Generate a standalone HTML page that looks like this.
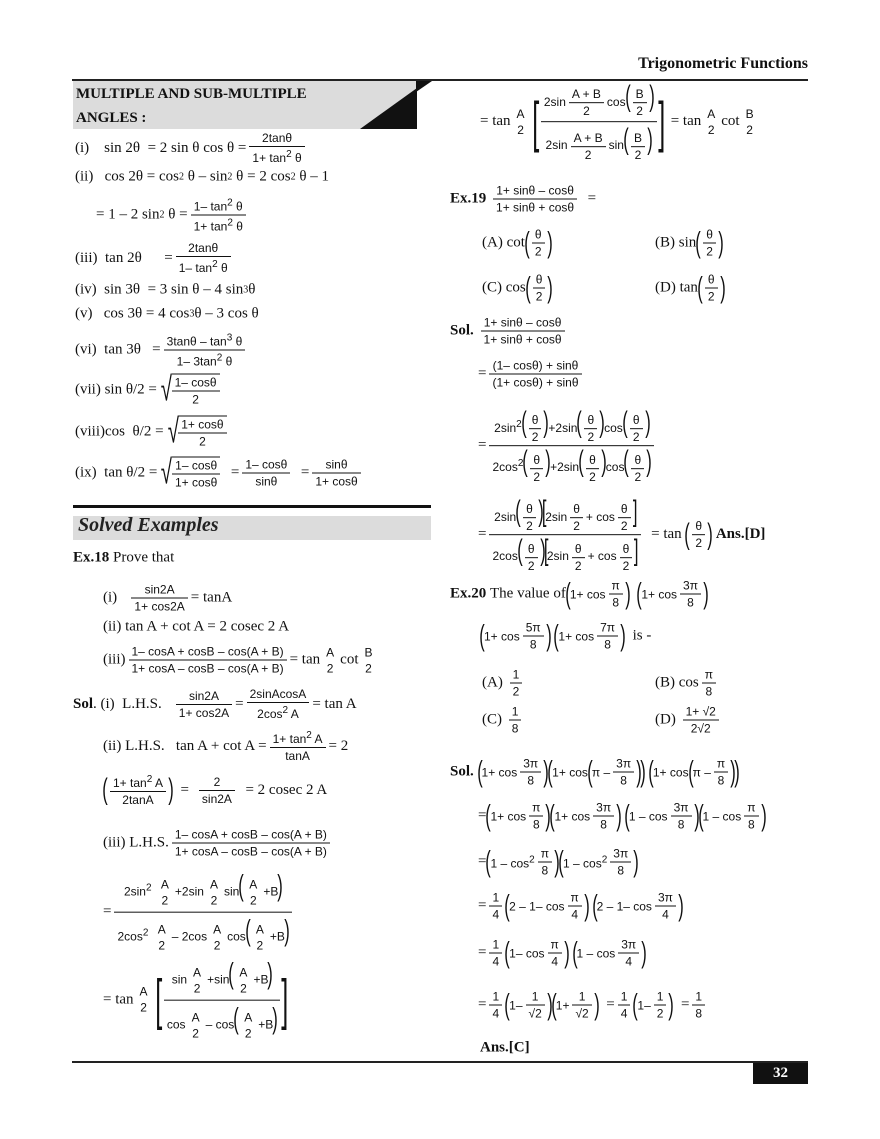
<!DOCTYPE html>
<html><head><meta charset="utf-8"><style>
body{margin:0;background:#fff}
#pg{position:relative;width:880px;height:1139px;overflow:hidden;font-family:"Liberation Serif",serif;font-size:15px;color:#111}
.l{position:absolute;transform:translateY(-50%);white-space:nowrap;display:flex;align-items:center}
.f{display:inline-flex;flex-direction:column;align-items:center;vertical-align:middle;font-family:"Liberation Sans",sans-serif;font-size:12px;margin:0 3px;line-height:14px}
.f>.n{border-bottom:1px solid #111;padding:0 3px 1px;width:calc(100% - 6px);text-align:center}
.f>.d{padding:1px 3px 0;text-align:center}
.s{font-family:"Liberation Sans",sans-serif;font-size:12px}
.p{font-family:"Liberation Sans",sans-serif;font-size:30px;font-weight:100;display:inline-block;transform:scaleX(.55);margin:0 -3px;line-height:30px}
.P{font-family:"Liberation Sans",sans-serif;font-size:56px;font-weight:100;display:inline-block;transform:scaleX(.45);margin:0 -6px;line-height:56px}
.b{font-weight:bold}
.sq{display:inline-flex;align-items:center}
.sq>.r{font-family:"Liberation Sans",sans-serif;font-size:34px;transform:scaleX(.6);margin-right:-4px}
.sq>.f{border-top:1px solid #111;margin-left:0;padding-top:1px}
sup{font-size:10px}
</style></head><body><div id="pg">
<div style="position:absolute;right:72px;top:55px;font-weight:bold;font-size:16px">Trigonometric Functions</div>
<div style="position:absolute;left:72px;top:79px;width:736px;height:2px;background:#222"></div>
<div style="position:absolute;left:73px;top:81px;width:344px;height:48px;background:#dcdcdc"></div>
<svg style="position:absolute;left:0;top:0" width="880" height="140"><polygon points="360,129 417,129 417,88" fill="#111"/><polygon points="416,81 432,81 416,92" fill="#111"/></svg>
<div style="position:absolute;left:76px;top:82px;font-weight:bold;font-size:15px;line-height:24px">MULTIPLE AND SUB-MULTIPLE<br>ANGLES :</div>

<div class="l" style="left:75px;top:148px">(i)&nbsp;&nbsp;&nbsp; sin 2θ&nbsp; = 2 sin θ cos θ = <span class="f"><span class="n">2tanθ</span><span class="d">1+ tan<sup>2</sup> θ</span></span></div>
<div class="l" style="left:75px;top:177px">(ii)&nbsp;&nbsp; cos 2θ = cos<sup>2</sup>&nbsp;θ – sin<sup>2</sup>&nbsp;θ = 2 cos<sup>2</sup>&nbsp;θ – 1</div>
<div class="l" style="left:96px;top:215px">= 1 – 2 sin<sup>2</sup>&nbsp;θ = <span class="f"><span class="n">1– tan<sup>2</sup> θ</span><span class="d">1+ tan<sup>2</sup> θ</span></span></div>
<div class="l" style="left:75px;top:258px">(iii)&nbsp; tan 2θ&nbsp;&nbsp;&nbsp;&nbsp;&nbsp; = <span class="f"><span class="n">2tanθ</span><span class="d">1– tan<sup>2</sup> θ</span></span></div>
<div class="l" style="left:75px;top:290px">(iv)&nbsp; sin 3θ&nbsp; = 3 sin θ – 4 sin<sup>3</sup> θ</div>
<div class="l" style="left:75px;top:314px">(v)&nbsp;&nbsp; cos 3θ = 4 cos<sup>3</sup> θ – 3 cos θ</div>
<div class="l" style="left:75px;top:350px">(vi)&nbsp; tan 3θ&nbsp;&nbsp; = <span class="f"><span class="n">3tanθ – tan<sup>3</sup> θ</span><span class="d">1– 3tan<sup>2</sup> θ</span></span></div>
<div class="l" style="left:75px;top:390px">(vii) sin θ/2 = <span class="sq"><span class="r">√</span><span class="f"><span class="n">1– cosθ</span><span class="d">2</span></span></span></div>
<div class="l" style="left:75px;top:432px">(viii)cos&nbsp; θ/2 = <span class="sq"><span class="r">√</span><span class="f"><span class="n">1+ cosθ</span><span class="d">2</span></span></span></div>
<div class="l" style="left:75px;top:473px">(ix)&nbsp; tan θ/2 = <span class="sq"><span class="r">√</span><span class="f"><span class="n">1– cosθ</span><span class="d">1+ cosθ</span></span></span>&nbsp; = <span class="f"><span class="n">1– cosθ</span><span class="d">sinθ</span></span>&nbsp; = <span class="f"><span class="n">sinθ</span><span class="d">1+ cosθ</span></span></div>

<div style="position:absolute;left:73px;top:505px;width:358px;height:3px;background:#111"></div>
<div style="position:absolute;left:73px;top:516px;width:358px;height:24px;background:#dcdcdc"></div>
<div style="position:absolute;left:78px;top:514px;font-weight:bold;font-style:italic;font-size:20px;color:#222">Solved Examples</div>
<div class="l" style="left:73px;top:558px"><span class="b">Ex.18</span>&nbsp;Prove that</div>
<div class="l" style="left:103px;top:598px">(i)&nbsp;&nbsp;&nbsp; <span class="f"><span class="n">sin2A</span><span class="d">1+ cos2A</span></span> = tanA</div>
<div class="l" style="left:103px;top:627px">(ii) tan A + cot A = 2 cosec 2 A</div>
<div class="l" style="left:103px;top:660px">(iii) <span class="f"><span class="n">1– cosA + cosB – cos(A + B)</span><span class="d">1+ cosA – cosB – cos(A + B)</span></span> = tan <span class="f"><span class="n" style="border:0">A</span><span class="d">2</span></span> cot <span class="f"><span class="n" style="border:0">B</span><span class="d">2</span></span></div>
<div class="l" style="left:73px;top:704px"><span class="b">Sol</span>. (i)&nbsp; L.H.S. <span class="f" style="margin-left:14px"><span class="n">sin2A</span><span class="d">1+ cos2A</span></span> = <span class="f"><span class="n">2sinAcosA</span><span class="d">2cos<sup>2</sup> A</span></span> = tan A</div>
<div class="l" style="left:103px;top:746px">(ii) L.H.S.&nbsp;&nbsp; tan A + cot A = <span class="f"><span class="n">1+ tan<sup>2</sup> A</span><span class="d">tanA</span></span> = 2</div>
<div class="l" style="left:103px;top:790px"><span class="p">(</span><span class="f"><span class="n">1+ tan<sup>2</sup> A</span><span class="d">2tanA</span></span><span class="p">)</span>&nbsp; = <span class="f" style="margin-left:10px"><span class="n">2</span><span class="d">sin2A</span></span>&nbsp; = 2 cosec 2 A</div>
<div class="l" style="left:103px;top:843px">(iii) L.H.S. <span class="f"><span class="n">1– cosA + cosB – cos(A + B)</span><span class="d">1+ cosA – cosB – cos(A + B)</span></span></div>
<div class="l" style="left:103px;top:912px">= <span class="f"><span class="n" style="padding-bottom:4px">2sin<sup>2</sup> <span class="f"><span class="n" style="border:0">A</span><span class="d">2</span></span>+2sin<span class="f"><span class="n" style="border:0">A</span><span class="d">2</span></span>sin<span class="p">(</span><span class="f"><span class="n" style="border:0">A</span><span class="d">2</span></span>+B<span class="p">)</span></span><span class="d" style="padding-top:4px">2cos<sup>2</sup> <span class="f"><span class="n" style="border:0">A</span><span class="d">2</span></span>– 2cos<span class="f"><span class="n" style="border:0">A</span><span class="d">2</span></span>cos<span class="p">(</span><span class="f"><span class="n" style="border:0">A</span><span class="d">2</span></span>+B<span class="p">)</span></span></span></div>
<div class="l" style="left:103px;top:1000px">= tan <span class="f"><span class="n" style="border:0">A</span><span class="d">2</span></span>&nbsp;<span class="P">[</span><span class="f"><span class="n" style="padding-bottom:4px">sin<span class="f"><span class="n" style="border:0">A</span><span class="d">2</span></span>+sin<span class="p">(</span><span class="f"><span class="n" style="border:0">A</span><span class="d">2</span></span>+B<span class="p">)</span></span><span class="d" style="padding-top:4px">cos<span class="f"><span class="n" style="border:0">A</span><span class="d">2</span></span>– cos<span class="p">(</span><span class="f"><span class="n" style="border:0">A</span><span class="d">2</span></span>+B<span class="p">)</span></span></span><span class="P">]</span></div>

<div class="l" style="left:480px;top:122px">= tan <span class="f"><span class="n" style="border:0">A</span><span class="d">2</span></span>&nbsp;<span class="P">[</span><span class="f"><span class="n" style="padding-bottom:3px">2sin<span class="f"><span class="n">A + B</span><span class="d">2</span></span>cos<span class="p">(</span><span class="f"><span class="n">B</span><span class="d">2</span></span><span class="p">)</span></span><span class="d" style="padding-top:3px">2sin<span class="f"><span class="n">A + B</span><span class="d">2</span></span>sin<span class="p">(</span><span class="f"><span class="n">B</span><span class="d">2</span></span><span class="p">)</span></span></span><span class="P">]</span>&nbsp; = tan <span class="f"><span class="n" style="border:0">A</span><span class="d">2</span></span> cot <span class="f"><span class="n" style="border:0">B</span><span class="d">2</span></span></div>
<div class="l" style="left:450px;top:199px"><span class="b">Ex.19</span>&nbsp;<span class="f"><span class="n">1+ sinθ – cosθ</span><span class="d">1+ sinθ + cosθ</span></span>&nbsp; =</div>
<div class="l" style="left:482px;top:243px">(A) cot<span class="p">(</span><span class="f"><span class="n">θ</span><span class="d">2</span></span><span class="p">)</span></div>
<div class="l" style="left:655px;top:243px">(B) sin<span class="p">(</span><span class="f"><span class="n">θ</span><span class="d">2</span></span><span class="p">)</span></div>
<div class="l" style="left:482px;top:288px">(C) cos<span class="p">(</span><span class="f"><span class="n">θ</span><span class="d">2</span></span><span class="p">)</span></div>
<div class="l" style="left:655px;top:288px">(D) tan<span class="p">(</span><span class="f"><span class="n">θ</span><span class="d">2</span></span><span class="p">)</span></div>
<div class="l" style="left:450px;top:331px"><span class="b">Sol.</span>&nbsp;<span class="f"><span class="n">1+ sinθ – cosθ</span><span class="d">1+ sinθ + cosθ</span></span></div>
<div class="l" style="left:478px;top:374px">= <span class="f"><span class="n">(1– cosθ) + sinθ</span><span class="d">(1+ cosθ) + sinθ</span></span></div>
<div class="l" style="left:478px;top:446px">= <span class="f"><span class="n">2sin<sup>2</sup><span class="p">(</span><span class="f"><span class="n">θ</span><span class="d">2</span></span><span class="p">)</span>+2sin<span class="p">(</span><span class="f"><span class="n">θ</span><span class="d">2</span></span><span class="p">)</span>cos<span class="p">(</span><span class="f"><span class="n">θ</span><span class="d">2</span></span><span class="p">)</span></span><span class="d">2cos<sup>2</sup><span class="p">(</span><span class="f"><span class="n">θ</span><span class="d">2</span></span><span class="p">)</span>+2sin<span class="p">(</span><span class="f"><span class="n">θ</span><span class="d">2</span></span><span class="p">)</span>cos<span class="p">(</span><span class="f"><span class="n">θ</span><span class="d">2</span></span><span class="p">)</span></span></span></div>
<div class="l" style="left:478px;top:535px">= <span class="f"><span class="n">2sin<span class="p">(</span><span class="f"><span class="n">θ</span><span class="d">2</span></span><span class="p">)</span><span class="p">[</span>2sin<span class="f"><span class="n">θ</span><span class="d">2</span></span>+ cos<span class="f"><span class="n">θ</span><span class="d">2</span></span><span class="p">]</span></span><span class="d">2cos<span class="p">(</span><span class="f"><span class="n">θ</span><span class="d">2</span></span><span class="p">)</span><span class="p">[</span>2sin<span class="f"><span class="n">θ</span><span class="d">2</span></span>+ cos<span class="f"><span class="n">θ</span><span class="d">2</span></span><span class="p">]</span></span></span>&nbsp; = tan&nbsp; <span class="p">(</span><span class="f"><span class="n">θ</span><span class="d">2</span></span><span class="p">)</span>&nbsp; <span class="b">Ans.[D]</span></div>
<div class="l" style="left:450px;top:594px"><span class="b">Ex.20</span>&nbsp;The value of <span class="p">(</span><span class="s">1+ cos</span><span class="f"><span class="n">π</span><span class="d">8</span></span><span class="p">)</span>&nbsp;&nbsp;<span class="p">(</span><span class="s">1+ cos</span><span class="f"><span class="n">3π</span><span class="d">8</span></span><span class="p">)</span></div>
<div class="l" style="left:480px;top:636px"><span class="p">(</span><span class="s">1+ cos</span><span class="f"><span class="n">5π</span><span class="d">8</span></span><span class="p">)</span>&nbsp;<span class="p">(</span><span class="s">1+ cos</span><span class="f"><span class="n">7π</span><span class="d">8</span></span><span class="p">)</span>&nbsp; is -</div>
<div class="l" style="left:482px;top:683px">(A)&nbsp; <span class="f"><span class="n">1</span><span class="d">2</span></span></div>
<div class="l" style="left:655px;top:683px">(B) cos <span class="f"><span class="n">π</span><span class="d">8</span></span></div>
<div class="l" style="left:482px;top:720px">(C)&nbsp; <span class="f"><span class="n">1</span><span class="d">8</span></span></div>
<div class="l" style="left:655px;top:720px">(D)&nbsp; <span class="f"><span class="n">1+ √2</span><span class="d">2√2</span></span></div>
<div class="l" style="left:450px;top:772px"><span class="b">Sol.</span>&nbsp;<span class="p">(</span><span class="s">1+ cos</span><span class="f"><span class="n">3π</span><span class="d">8</span></span><span class="p">)</span><span class="p">(</span><span class="s">1+ cos</span><span class="p">(</span><span class="s">π –</span><span class="f"><span class="n">3π</span><span class="d">8</span></span><span class="p">)</span><span class="p">)</span>&nbsp;<span class="p">(</span><span class="s">1+ cos</span><span class="p">(</span><span class="s">π –</span><span class="f"><span class="n">π</span><span class="d">8</span></span><span class="p">)</span><span class="p">)</span></div>
<div class="l" style="left:478px;top:816px">=<span class="p">(</span><span class="s">1+ cos</span><span class="f"><span class="n">π</span><span class="d">8</span></span><span class="p">)</span><span class="p">(</span><span class="s">1+ cos</span><span class="f"><span class="n">3π</span><span class="d">8</span></span><span class="p">)</span>&nbsp;<span class="p">(</span><span class="s">1 – cos</span><span class="f"><span class="n">3π</span><span class="d">8</span></span><span class="p">)</span><span class="p">(</span><span class="s">1 – cos</span><span class="f"><span class="n">π</span><span class="d">8</span></span><span class="p">)</span></div>
<div class="l" style="left:478px;top:862px">= <span class="p">(</span><span class="s">1 – cos<sup>2</sup></span><span class="f"><span class="n">π</span><span class="d">8</span></span><span class="p">)</span><span class="p">(</span><span class="s">1 – cos<sup>2</sup></span><span class="f"><span class="n">3π</span><span class="d">8</span></span><span class="p">)</span></div>
<div class="l" style="left:478px;top:906px">= <span class="f"><span class="n">1</span><span class="d">4</span></span><span class="p">(</span><span class="s">2 – 1– cos</span><span class="f"><span class="n">π</span><span class="d">4</span></span><span class="p">)</span>&nbsp;<span class="p">(</span><span class="s">2 – 1– cos</span><span class="f"><span class="n">3π</span><span class="d">4</span></span><span class="p">)</span></div>
<div class="l" style="left:478px;top:953px">= <span class="f"><span class="n">1</span><span class="d">4</span></span><span class="p">(</span><span class="s">1– cos</span><span class="f"><span class="n">π</span><span class="d">4</span></span><span class="p">)</span>&nbsp;<span class="p">(</span><span class="s">1 – cos</span><span class="f"><span class="n">3π</span><span class="d">4</span></span><span class="p">)</span></div>
<div class="l" style="left:478px;top:1005px">=<span class="f"><span class="n">1</span><span class="d">4</span></span><span class="p">(</span><span class="s">1–</span><span class="f"><span class="n">1</span><span class="d">√2</span></span><span class="p">)</span><span class="p">(</span><span class="s">1+</span><span class="f"><span class="n">1</span><span class="d">√2</span></span><span class="p">)</span>&nbsp; = <span class="f"><span class="n">1</span><span class="d">4</span></span><span class="p">(</span><span class="s">1–</span><span class="f"><span class="n">1</span><span class="d">2</span></span><span class="p">)</span>&nbsp; = <span class="f"><span class="n">1</span><span class="d">8</span></span></div>
<div class="l" style="left:480px;top:1048px"><span class="b">Ans.[C]</span></div>

<div style="position:absolute;left:72px;top:1061px;width:736px;height:2px;background:#222"></div>
<div style="position:absolute;left:753px;top:1063px;width:55px;height:21px;background:#111;color:#fff;font-weight:bold;font-size:15px;text-align:center;line-height:21px">32</div>
</div></body></html>
